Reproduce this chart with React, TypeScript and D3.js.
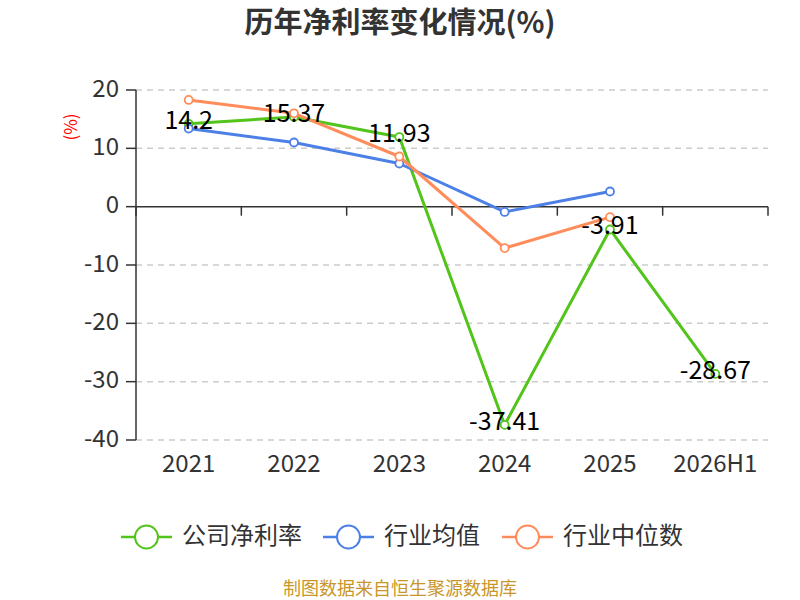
import * as d3 from "d3";

const categories = ["2021", "2022", "2023", "2024", "2025", "2026H1"];
const companyMargin = [14.2, 15.37, 11.93, -37.41, -3.91, -28.67];
const industryAvg = [13.4, 11.0, 7.4, -0.9, 2.6];
const industryMedian = [18.3, 16.0, 8.6, -7.1, -1.8];
const yTicks = [20, 10, 0, -10, -20, -30, -40];

const seriesList = [
    { name: "公司净利率", values: companyMargin, color: "#52c41a", labels: true },
    { name: "行业均值", values: industryAvg, color: "#4d80e6", labels: false },
    { name: "行业中位数", values: industryMedian, color: "#ff8c5a", labels: false },
];

const FONT = "'Microsoft YaHei', 'Noto Sans CJK SC', sans-serif";

const App = () => {
    const width = 800;
    const height = 600;
    const left = 136;
    const right = 768;
    const top = 90;
    const bottom = 440;

    const xScale = d3.scaleBand().domain(categories).range([left, right]).padding(0);
    const yScale = d3.scaleLinear().domain([-40, 20]).range([bottom, top]);
    const cx = (c) => xScale(c) + xScale.bandwidth() / 2;

    const lineGen = d3
        .line()
        .x((d) => cx(d.cat))
        .y((d) => yScale(d.v));

    const boundaries = categories.map((c) => xScale(c)).concat([right]);

    const legendX = [121, 323, 502];

    return (
        <svg width={width} height={height} style={{ display: "block", position: "absolute", left: 0, top: 0 }}>
            <rect width={width} height={height} fill="#fff" />
            <text x={400} y={25} textAnchor="middle" dominantBaseline="middle" fontFamily={FONT} fontSize={29} fontWeight="bold" fill="#333">
                历年净利率变化情况(%)
            </text>
            <text
                transform={`translate(72,127) rotate(-90)`}
                textAnchor="middle"
                dominantBaseline="middle"
                fontFamily={FONT}
                fontSize={17}
                fill="#ff0000"
            >
                (%)
            </text>

            {/* grid lines */}
            {yTicks
                .filter((t) => t !== 0)
                .map((t) => (
                    <line key={`g${t}`} x1={left} x2={right} y1={yScale(t)} y2={yScale(t)} stroke="#ccc" strokeWidth={1.5} strokeDasharray="6,5" />
                ))}

            {/* y axis */}
            <line x1={left} x2={left} y1={top} y2={bottom} stroke="#333" strokeWidth={1.5} />
            {yTicks.map((t) => (
                <g key={`y${t}`}>
                    <line x1={left - 10} x2={left} y1={yScale(t)} y2={yScale(t)} stroke="#333" strokeWidth={1.5} />
                    <text x={left - 17} y={yScale(t)} textAnchor="end" dominantBaseline="middle" fontFamily={FONT} fontSize={24} fill="#333">
                        {t}
                    </text>
                </g>
            ))}

            {/* x axis on zero */}
            <line x1={left} x2={right} y1={yScale(0)} y2={yScale(0)} stroke="#333" strokeWidth={1.5} />
            {boundaries.map((b, i) => (
                <line key={`xt${i}`} x1={b} x2={b} y1={yScale(0)} y2={yScale(0) + 9} stroke="#333" strokeWidth={1.5} />
            ))}
            {categories.map((c) => (
                <text key={`xl${c}`} x={cx(c)} y={465} textAnchor="middle" dominantBaseline="middle" fontFamily={FONT} fontSize={24} fill="#333">
                    {c}
                </text>
            ))}

            {/* series */}
            {seriesList.map((s) => {
                const pts = s.values.map((v, i) => ({ cat: categories[i], v }));
                return (
                    <g key={s.name}>
                        <path d={lineGen(pts)} fill="none" stroke={s.color} strokeWidth={3} strokeLinejoin="round" />
                        {pts.map((p, i) => (
                            <circle key={i} cx={cx(p.cat)} cy={yScale(p.v)} r={4} fill="#fff" stroke={s.color} strokeWidth={1.8} />
                        ))}
                    </g>
                );
            })}

            {/* data labels */}
            {seriesList
                .filter((s) => s.labels)
                .map((s) =>
                    s.values.map((v, i) => (
                        <text
                            key={`lab${i}`}
                            x={cx(categories[i])}
                            y={yScale(v) - 2}
                            textAnchor="middle"
                            dominantBaseline="middle"
                            fontFamily={FONT}
                            fontSize={25}
                            fill="#000"
                        >
                            {v}
                        </text>
                    ))
                )}

            {/* legend */}
            {seriesList.map((s, i) => (
                <g key={`lg${s.name}`}>
                    <line x1={legendX[i]} x2={legendX[i] + 51} y1={537} y2={537} stroke={s.color} strokeWidth={2.5} />
                    <circle cx={legendX[i] + 25.5} cy={537} r={11.5} fill="#fff" stroke={s.color} strokeWidth={2} />
                    <text x={legendX[i] + 61} y={537} dominantBaseline="middle" fontFamily={FONT} fontSize={24} fill="#333">
                        {s.name}
                    </text>
                </g>
            ))}

            <text x={400} y={590} textAnchor="middle" dominantBaseline="middle" fontFamily={FONT} fontSize={18} fill="#c8962a">
                制图数据来自恒生聚源数据库
            </text>
        </svg>
    );
};

export default App;
